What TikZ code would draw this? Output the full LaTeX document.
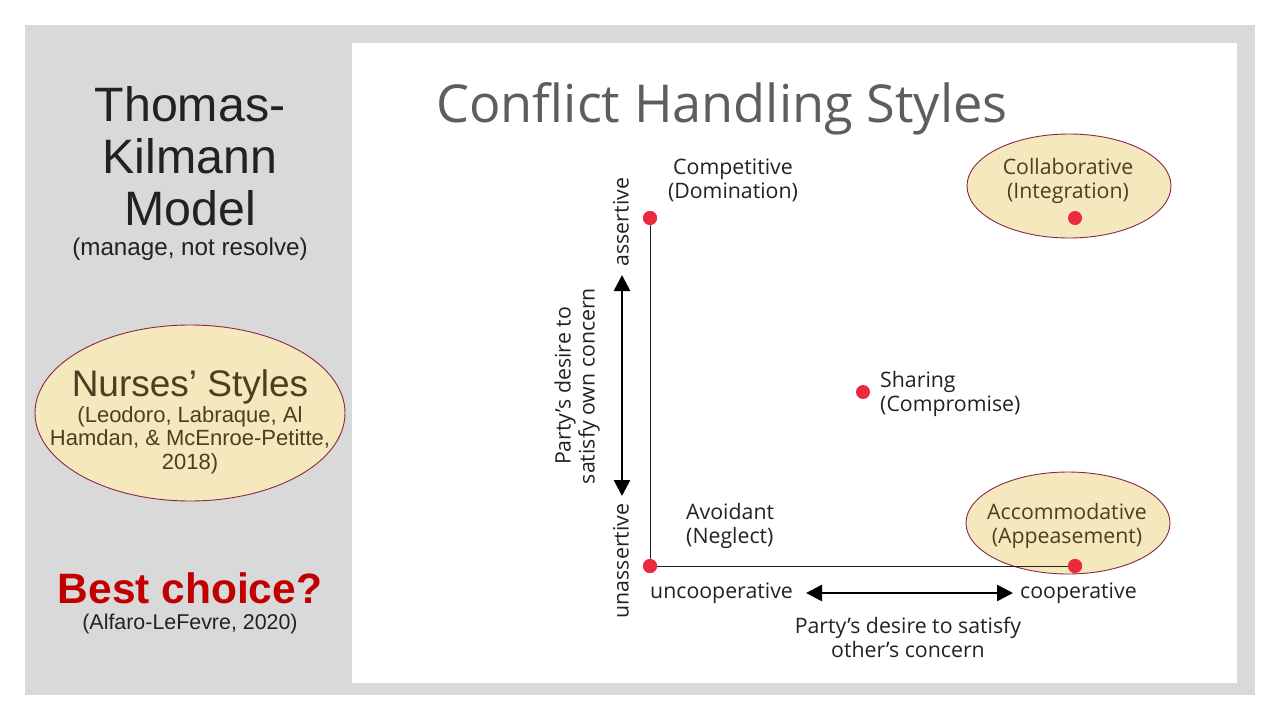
\documentclass[tikz,border=0pt]{standalone}
\usepackage{fontspec}
\setmainfont{Liberation Sans}
\newfontfamily\diagfont{Open Sans}
\newfontfamily\titlefont{Open Sans}
\usetikzlibrary{arrows.meta,shapes.geometric}
\definecolor{panelgray}{HTML}{D9D9D9}
\definecolor{dotred}{HTML}{EC2A3F}
\definecolor{beige}{HTML}{F5E8BC}
\definecolor{maroon}{HTML}{8E2548}
\definecolor{olive}{HTML}{4A4020}
\definecolor{bestred}{HTML}{C00000}
\definecolor{titlegray}{HTML}{5E5E5E}
\definecolor{txt}{HTML}{222222}
\tikzset{
  dotnode/.style={circle, fill=dotred, inner sep=0pt, minimum size=14pt},
  ovalnode/.style={ellipse, draw=maroon, line width=0.9pt, fill=beige, inner sep=0pt},
  dlabel/.style={font=\diagfont\fontsize{21.3}{24}\selectfont, text=txt, inner sep=0pt},
  axisline/.style={line width=1pt, draw=txt},
  bigarrow/.style={line width=2.6pt, {Triangle[width=16pt,length=16pt]}-{Triangle[width=16pt,length=16pt]}},
  lefttext/.style={text=txt, inner sep=0pt, align=center}
}
\begin{document}
\begin{tikzpicture}[x=1pt,y=-1pt]
\useasboundingbox (0,0) rectangle (1280,720);
\fill[white] (0,0) rectangle (1280,720);
\fill[panelgray] (25,25) rectangle (1255,695);
\fill[white] (352,43) rectangle (1237,683);

% left column
\node[lefttext, font=\fontsize{48.3}{52}\selectfont, anchor=base] (tk) at (190,225) {Thomas-\\Kilmann\\Model};
\node[lefttext, font=\fontsize{24.2}{26}\selectfont, anchor=base] (mnr) at (190,255) {(manage, not resolve)};

\node[ovalnode, minimum width=310pt, minimum height=176pt] (nurseoval) at (190,413) {};
\node[lefttext, text=olive, font=\fontsize{37}{40}\selectfont, anchor=base] (nurse) at (190,396) {Nurses’ Styles};
\node[lefttext, text=olive, font=\fontsize{22}{23.5}\selectfont, anchor=base] (nursecite) at (190,469) {(Leodoro, Labraque, Al\\Hamdan, \& McEnroe-Petitte,\\2018)};

\node[lefttext, text=bestred, font=\fontsize{42.5}{46}\bfseries\selectfont, anchor=base] (best) at (190,603) {Best choice?};
\node[lefttext, font=\fontsize{21.4}{23}\selectfont, anchor=base] (alf) at (190,629) {(Alfaro-LeFevre, 2020)};

% title
\node[text=titlegray, inner sep=0pt, anchor=base west, font=\titlefont\fontsize{52.3}{56}\selectfont] (title) at (436,122) {Conflict Handling Styles};

% ovals in diagram
\node[ovalnode, minimum width=204pt, minimum height=104pt] (collabOval) at (1069,186) {};
\node[ovalnode, minimum width=204pt, minimum height=102pt] (accomOval) at (1068,523) {};

% axes and dots
\node[dotnode] (comp) at (650,218) {};
\node[dotnode] (avoid) at (650,566) {};
\node[dotnode] (accom) at (1075,566) {};
\node[dotnode] (collab) at (1075,218) {};
\node[dotnode] (share) at (863,392) {};
\draw[axisline] (comp.center) -- (avoid.center) -- (accom.center);
\node[dotnode] at (650,218) {};
\node[dotnode] at (650,566) {};
\node[dotnode] at (1075,566) {};

% labels
\node[dlabel, align=center, anchor=base] (compL) at (733,198) {Competitive\\(Domination)};
\node[dlabel, align=center, anchor=base, text=olive] (collabL) at (1068,198) {Collaborative\\(Integration)};
\node[dlabel, align=left, anchor=base west] (shareL) at (880,411) {Sharing\\(Compromise)};
\node[dlabel, align=left, anchor=base west] (avoidL) at (686,543) {Avoidant\\(Neglect)};
\node[dlabel, align=center, anchor=base, text=olive] (accomL) at (1067,543) {Accommodative\\(Appeasement)};

% horizontal axis labels
\node[dlabel, anchor=base west] (uncoop) at (650,598) {uncooperative};
\node[dlabel, anchor=base west] (coop) at (1020,598) {cooperative};
\coordinate (hL) at (806,593);
\coordinate (hR) at (1013,593);
\draw[bigarrow] (hL) -- (hR);
\node[dlabel, align=center, anchor=base] (hdesc) at (908,657) {Party’s desire to satisfy\\other’s concern};

% vertical axis labels
\node[dlabel, rotate=90, anchor=center] (assert) at (621,222) {assertive};
\node[dlabel, rotate=90, anchor=center] (unassert) at (621,561) {unassertive};
\coordinate (vT) at (622,275);
\coordinate (vB) at (622,496);
\draw[bigarrow] (vB) -- (vT);
\node[dlabel, rotate=90, align=center, anchor=center] (vdesc) at (577,386) {Party’s desire to\\satisfy own concern};
\end{tikzpicture}
\end{document}
